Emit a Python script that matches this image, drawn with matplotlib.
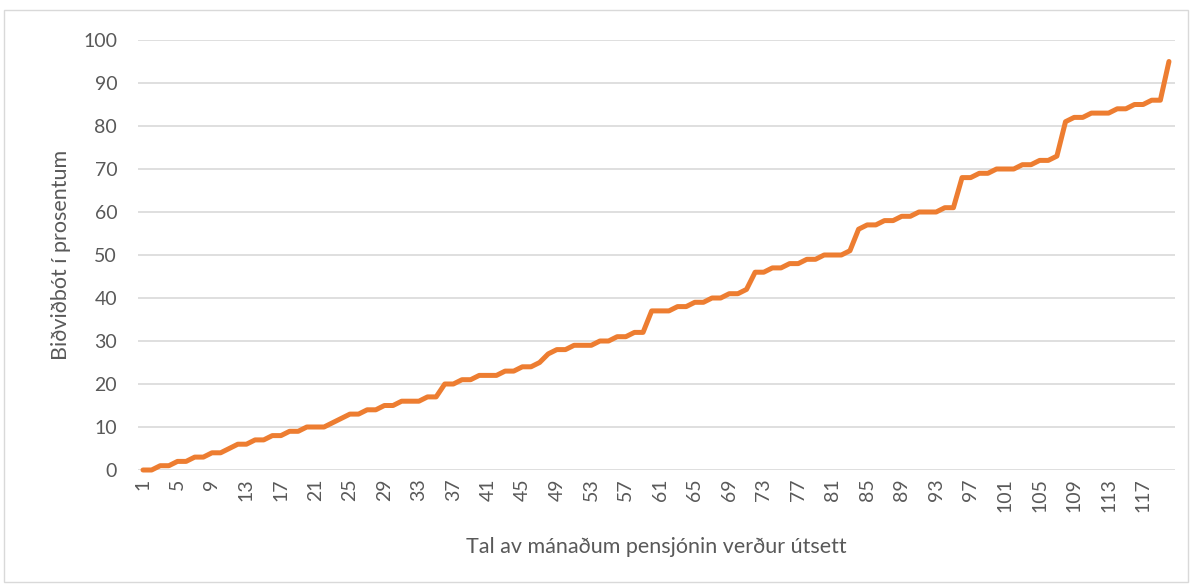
import matplotlib
matplotlib.use("Agg")
import matplotlib.pyplot as plt
from matplotlib.patches import Rectangle

months = list(range(1, 121))
values = [
    0, 0, 1, 1, 2, 2, 3, 3, 4, 4,
    5, 6, 6, 7, 7, 8, 8, 9, 9, 10,
    10, 10, 11, 12, 13, 13, 14, 14, 15, 15,
    16, 16, 16, 17, 17, 20, 20, 21, 21, 22,
    22, 22, 23, 23, 24, 24, 25, 27, 28, 28,
    29, 29, 29, 30, 30, 31, 31, 32, 32, 37,
    37, 37, 38, 38, 39, 39, 40, 40, 41, 41,
    42, 46, 46, 47, 47, 48, 48, 49, 49, 50,
    50, 50, 51, 56, 57, 57, 58, 58, 59, 59,
    60, 60, 60, 61, 61, 68, 68, 69, 69, 70,
    70, 70, 71, 71, 72, 72, 73, 81, 82, 82,
    83, 83, 83, 84, 84, 85, 85, 86, 86, 95,
]
x_ticks = list(range(1, 121, 4))
y_ticks = list(range(0, 101, 10))
x_label = "Tal av mánaðum pensjónin verður útsett"
y_label = "Biðviðbót í prosentum"

plt.rcParams['font.family'] = ['Lato', 'DejaVu Sans']
text_color = "#595959"

fig = plt.figure(figsize=(11.92, 5.86), dpi=100)
fig.patches.append(Rectangle((4 / 1192, 4 / 586), 1184 / 1192, 572 / 586,
                             transform=fig.transFigure, fill=False,
                             edgecolor="#d9d9d9", linewidth=1))
ax = fig.add_axes([138 / 1192, (586 - 470) / 586, (1175 - 138) / 1192, 430 / 586])

ax.plot(months, values, color="#ED7D31", linewidth=3.6, solid_joinstyle="round",
        solid_capstyle="round", clip_on=False, zorder=3)

ax.set_xlim(0.42, 120.7)
ax.set_ylim(0, 100)
ax.set_yticks(y_ticks)
ax.set_xticks(x_ticks)
ax.set_xticklabels([str(t) for t in x_ticks], rotation=90)
ax.grid(axis="y", color="#d9d9d9", linewidth=1.2)
ax.set_axisbelow(True)
for s in ["top", "right", "left", "bottom"]:
    ax.spines[s].set_visible(False)
ax.tick_params(axis="both", length=0, labelsize=14, colors=text_color)
ax.tick_params(axis="y", pad=15)
ax.tick_params(axis="x", pad=6)

ax.set_xlabel(x_label, fontsize=15.5, color=text_color, labelpad=18)
ax.set_ylabel(y_label, fontsize=15.5, color=text_color, labelpad=9)

fig.savefig("out.png", dpi=100)
